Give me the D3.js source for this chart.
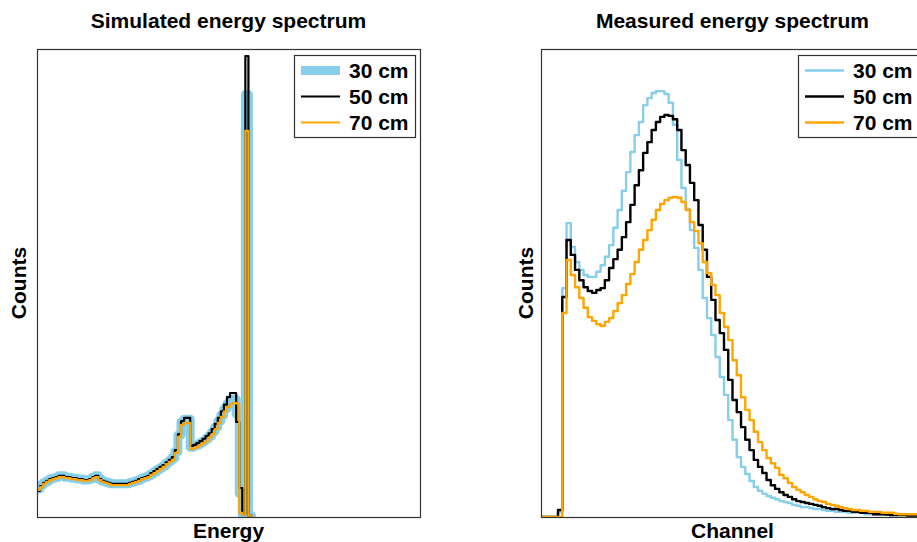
<!DOCTYPE html>
<html>
    <head>
        <meta charset="utf-8">
        <style>
            body {
                margin: 0;
                background: white;
            }
            svg {
                display: block;
                font-family: 'Liberation Sans', Arial, sans-serif;
                font-weight: bold;
            }
        </style>
    </head>
    <body>
        <svg width="917" height="542"></svg>
    </body>

    <script src="https://d3js.org/d3.v7.min.js"></script>
    <script>
        // series names + colours
        let seriesNames = ["30 cm", "50 cm", "70 cm"]
        let seriesColors = ["#87CEEB", "black", "#FFA500"]

        // simulated spectrum, counts per energy bin (125 bins on the axis, data stops after the photopeak)
        let simBins = 125
        let sim30 = [6.0, 6.8, 7.3, 7.7, 8.1, 8.3, 8.5, 8.8, 8.8, 8.5,
            8.5, 8.3, 8.3, 8.1, 8.1, 7.9, 7.9, 8.1, 8.5, 8.8,
            8.1, 7.7, 7.5, 7.3, 7.1, 7.1, 7.1, 7.1, 7.1, 7.1,
            7.3, 7.5, 7.7, 7.9, 8.3, 8.5, 8.8, 9.2, 9.6, 10.1,
            10.5, 10.9, 11.5, 12.0, 12.6, 14.0, 17.5, 20.3, 20.9, 20.9,
            14.9, 15.2, 15.4, 15.8, 16.2, 16.7, 17.3, 18.2, 19.2, 20.5,
            21.8, 23.1, 24.2, 25.0, 25.2, 22.0, 5.0, 0.5, 90.3, 0.3]
        let sim50 = [5.6, 6.6, 7.3, 7.7, 8.1, 8.3, 8.5, 8.8, 8.8, 8.5,
            8.5, 8.3, 8.3, 8.1, 8.1, 7.9, 7.9, 8.1, 8.5, 8.8,
            8.1, 7.7, 7.5, 7.3, 7.1, 7.1, 7.1, 7.1, 7.1, 7.1,
            7.3, 7.5, 7.7, 8.1, 8.3, 8.5, 8.8, 9.4, 9.8, 10.3,
            10.7, 11.1, 11.7, 12.2, 12.8, 14.3, 17.7, 20.5, 21.2, 21.2,
            15.2, 15.4, 15.8, 16.2, 16.7, 17.3, 17.9, 18.8, 19.9, 21.2,
            22.6, 24.0, 25.6, 26.5, 26.5, 20.3, 6.2, 0.6, 98.5, 0.3]
        let sim70 = [5.8, 6.4, 7.1, 7.5, 7.9, 8.1, 8.3, 8.5, 8.5, 8.3,
            8.3, 8.1, 8.1, 7.9, 7.9, 7.7, 7.7, 7.9, 8.3, 8.5,
            7.9, 7.5, 7.3, 7.1, 6.8, 6.8, 6.8, 6.8, 6.8, 6.8,
            7.1, 7.3, 7.5, 7.7, 8.1, 8.3, 8.5, 9.0, 9.4, 9.8,
            10.3, 10.7, 11.3, 11.8, 12.2, 13.7, 17.1, 19.7, 20.1, 20.1,
            14.5, 14.7, 15.0, 15.4, 15.8, 16.3, 17.0, 17.7, 18.8, 20.1,
            21.4, 22.6, 23.5, 24.2, 24.4, 24.2, 0.9, 0.5, 82.5, 0.3]

        // measured spectrum, counts per channel bin
        let measBins = 90
        let meas30 = [0, 0, 0, 0, 1.0, 48.9, 62.8, 57.7, 54.5, 52.8,
            51.7, 51.3, 51.3, 52.4, 53.8, 55.6, 58.1, 61.8, 65.6, 69.7,
            73.7, 78.0, 81.6, 84.4, 88.0, 89.5, 90.6, 91.0, 91.0, 90.4,
            88.5, 83.8, 76.3, 70.3, 65.8, 61.3, 57.5, 52.8, 46.8, 42.5,
            38.9, 34.2, 29.9, 26.1, 20.7, 16.5, 12.8, 10.7, 9.2, 7.7,
            6.4, 5.6, 5.0, 4.5, 4.1, 3.8, 3.4, 3.2, 3.0, 2.6,
            2.4, 2.1, 2.1, 1.9, 1.7, 1.7, 1.5, 1.3, 1.3, 1.1,
            1.1, 1.1, 0.9, 0.9, 0.9, 0.9, 0.6, 0.6, 0.6, 0.6,
            0.5, 0.5, 0.4, 0.4, 0.4, 0.4, 0.3, 0.3, 0.3, 0.3]
        let meas50 = [0, 0, 0, 0, 1.5, 47.0, 59.2, 56.0, 52.8, 50.6,
            49.1, 48.3, 47.9, 48.5, 48.9, 50.6, 53.2, 55.1, 57.1, 59.8,
            63.0, 66.7, 70.9, 74.1, 77.8, 80.1, 82.7, 84.4, 85.5, 85.9,
            85.7, 85.0, 82.7, 78.4, 75.2, 71.4, 67.7, 62.4, 57.1, 51.3,
            46.4, 42.1, 39.3, 35.7, 29.3, 25.0, 22.4, 19.2, 16.5, 14.3,
            12.2, 10.7, 9.4, 7.9, 6.8, 6.0, 5.3, 4.7, 4.3, 3.8,
            3.4, 3.2, 3.0, 2.8, 2.6, 2.4, 2.1, 1.9, 1.7, 1.7,
            1.5, 1.3, 1.3, 1.1, 1.1, 0.9, 0.9, 0.9, 0.6, 0.6,
            0.6, 0.5, 0.4, 0.4, 0.4, 0.4, 0.3, 0.3, 0.3, 0.3]
        let meas70 = [0, 0, 0, 0, 0, 43.6, 54.9, 51.7, 49.1, 46.8,
            44.7, 42.7, 41.9, 41.2, 40.8, 41.7, 42.5, 44.0, 45.7, 47.4,
            49.8, 51.9, 54.5, 57.1, 59.2, 61.3, 63.5, 65.6, 66.9, 67.7,
            68.2, 68.4, 68.2, 67.3, 65.6, 63.0, 61.1, 58.5, 54.5, 52.1,
            49.6, 47.4, 43.6, 40.6, 37.8, 33.5, 30.3, 25.6, 22.9, 20.7,
            18.2, 16.0, 14.3, 12.6, 11.5, 10.5, 9.0, 8.3, 7.3, 6.4,
            5.8, 5.3, 4.7, 4.3, 3.8, 3.4, 3.2, 2.8, 2.6, 2.4,
            2.1, 1.9, 1.7, 1.5, 1.5, 1.3, 1.3, 1.1, 1.1, 1.1,
            0.9, 0.9, 0.9, 0.7, 0.6, 0.6, 0.6, 0.6, 0.6, 0.6]

        let countsMax = 100

        let svg = d3.select("svg")

        let panels = [
            { id: "sim", left: 37, labelX: 26, title: "Simulated energy spectrum", xLabel: "Energy",
              bins: simBins, series: [sim30, sim50, sim70], widths: [9, 2.2, 2.2] },
            { id: "meas", left: 541, labelX: 533, title: "Measured energy spectrum", xLabel: "Channel",
              bins: measBins, series: [meas30, meas50, meas70], widths: [2.4, 2.4, 2.4] }
        ]

        let plotTop = 49
        let plotW = 383
        let plotH = 468
        let fontSize = 21

        panels.forEach(p => {
            let x = d3.scaleLinear()
                .domain([0, p.bins])
                .range([p.left, p.left + plotW])

            let y = d3.scaleLinear()
                .domain([0, countsMax])
                .range([plotTop + plotH, plotTop])

            svg.append("clipPath")
                .attr("id", "clip-" + p.id)
                .append("rect")
                .attr("x", p.left)
                .attr("y", plotTop)
                .attr("width", plotW)
                .attr("height", plotH)

            // histogram steps
            let line = d3.line()
                .x(d => x(d[0]))
                .y(d => y(d[1]))
                .curve(d3.curveStepAfter)

            let g = svg.append("g")
                .attr("clip-path", `url(#clip-${p.id})`)

            p.series.forEach((vals, k) => {
                let pts = vals.map((v, i) => [i, v])
                pts.push([vals.length, vals[vals.length - 1]])
                g.append("path")
                    .attr("d", line(pts))
                    .attr("fill", "none")
                    .attr("stroke", seriesColors[k])
                    .attr("stroke-width", p.widths[k])
                    .attr("stroke-linejoin", "round")
                    .attr("stroke-linecap", "round")
            })

            // box
            svg.append("rect")
                .attr("x", p.left + 0.5)
                .attr("y", plotTop + 0.5)
                .attr("width", plotW)
                .attr("height", plotH)
                .attr("fill", "none")
                .attr("stroke", "#333")
                .attr("stroke-width", 1.2)

            let cx = p.left + plotW / 2

            svg.append("text")
                .attr("x", cx)
                .attr("y", 28)
                .attr("text-anchor", "middle")
                .style("font-size", fontSize + "px")
                .text(p.title)

            svg.append("text")
                .attr("x", cx)
                .attr("y", 538)
                .attr("text-anchor", "middle")
                .style("font-size", fontSize + "px")
                .text(p.xLabel)

            svg.append("text")
                .attr("transform", `translate(${p.labelX},${plotTop + plotH / 2}) rotate(-90)`)
                .attr("text-anchor", "middle")
                .style("font-size", fontSize + "px")
                .text("Counts")

            // legend, top right
            let legW = 121
            let legX = p.left + plotW - 5 - legW
            let legY = plotTop + 6
            let legend = svg.append("g").attr("class", "legend")

            legend.append("rect")
                .attr("x", legX + 0.5)
                .attr("y", legY + 0.5)
                .attr("width", legW)
                .attr("height", 82)
                .attr("fill", "white")
                .attr("stroke", "#333")
                .attr("stroke-width", 1.2)

            seriesNames.forEach((name, k) => {
                let ry = legY + 15.5 + k * 26
                legend.append("line")
                    .attr("x1", legX + 7)
                    .attr("x2", legX + 46)
                    .attr("y1", ry)
                    .attr("y2", ry)
                    .attr("stroke", seriesColors[k])
                    .attr("stroke-width", p.widths[k])
                legend.append("text")
                    .attr("x", legX + 55)
                    .attr("y", ry + 7.5)
                    .style("font-size", fontSize + "px")
                    .text(name)
            })
        })
    </script>
</html>
